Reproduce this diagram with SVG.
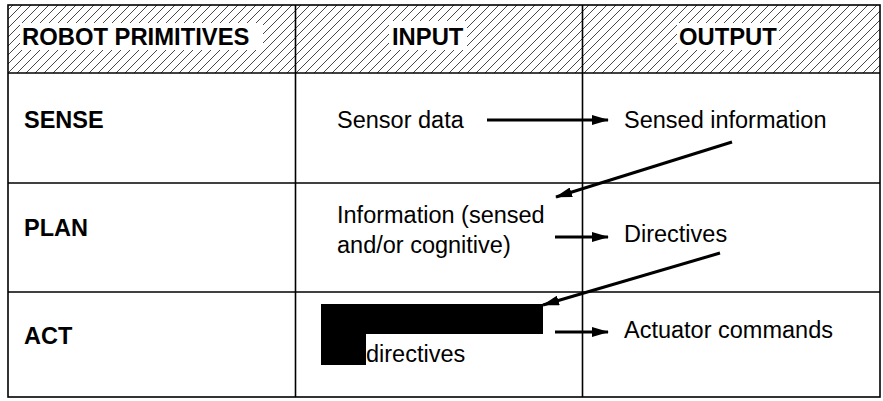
<svg xmlns="http://www.w3.org/2000/svg" width="883" height="401" viewBox="0 0 883 401">
  <defs>
    <pattern id="hatch" patternUnits="userSpaceOnUse" width="9" height="9">
      <path d="M0,9 L9,0 M-1,1 L1,-1 M8,10 L10,8" stroke="#333" stroke-width="0.9" fill="none"/>
    </pattern>
    <marker id="arr" viewBox="0 0 17 10" refX="16" refY="5" markerWidth="17" markerHeight="10" markerUnits="userSpaceOnUse" orient="auto">
      <path d="M0,0 L17,5 L0,10 z" fill="#000"/>
    </marker>
  </defs>
  <style>
    .grid { stroke: #000; stroke-width: 1.6; fill: none; }
    .hd { font-family: "Liberation Sans", Arial, sans-serif; font-weight: bold; font-size: 23.8px; fill: #000; }
    .row { font-family: "Liberation Sans", Arial, sans-serif; font-weight: bold; font-size: 23.5px; fill: #000; }
    .txt { font-family: "Liberation Sans", Arial, sans-serif; font-size: 23.5px; fill: #000; }
    .conn { stroke: #000; stroke-width: 3; fill: none; marker-end: url(#arr); }
  </style>
  <rect x="0" y="0" width="883" height="401" fill="#fff"/>

  <g id="header">
    <rect x="8" y="5" width="872" height="68" fill="url(#hatch)"/>
    <rect x="20" y="23" width="243" height="27" fill="#fff"/>
    <rect x="389" y="21" width="78" height="29" fill="#fff"/>
    <rect x="677" y="23" width="102" height="27" fill="#fff"/>
    <text class="hd" x="22" y="45">ROBOT PRIMITIVES</text>
    <text class="hd" x="392" y="45">INPUT</text>
    <text class="hd" x="679" y="45">OUTPUT</text>
  </g>

  <g id="table">
    <rect class="grid" x="8" y="5" width="872" height="392"/>
    <line class="grid" x1="8" y1="73" x2="880" y2="73"/>
    <line class="grid" x1="8" y1="183" x2="880" y2="183"/>
    <line class="grid" x1="8" y1="292" x2="880" y2="292"/>
    <line class="grid" x1="295.5" y1="5" x2="295.5" y2="397"/>
    <line class="grid" x1="582.5" y1="5" x2="582.5" y2="397"/>
  </g>

  <g id="sense">
    <text class="row" x="24" y="128">SENSE</text>
    <text class="txt" x="337" y="128">Sensor data</text>
    <text class="txt" x="624" y="127.5">Sensed information</text>
  </g>

  <g id="plan">
    <text class="row" x="24" y="236">PLAN</text>
    <text class="txt" x="337" y="223">Information (sensed</text>
    <text class="txt" x="337" y="253">and/or cognitive)</text>
    <text class="txt" x="624" y="242">Directives</text>
  </g>

  <g id="act">
    <text class="row" x="24" y="344">ACT</text>
    <rect x="321" y="304" width="222" height="30" fill="#000"/>
    <rect x="321" y="333" width="45" height="32" fill="#000"/>
    <text class="txt" x="366" y="362">directives</text>
    <text class="txt" x="624" y="338">Actuator commands</text>
  </g>

  <g id="connectors">
    <line class="conn" x1="487" y1="120" x2="608" y2="120"/>
    <line class="conn" x1="732" y1="142" x2="556" y2="197"/>
    <line class="conn" x1="555" y1="237" x2="608" y2="237"/>
    <line class="conn" x1="720" y1="253" x2="543" y2="305"/>
    <line class="conn" x1="555" y1="332" x2="608" y2="332"/>
  </g>
</svg>
